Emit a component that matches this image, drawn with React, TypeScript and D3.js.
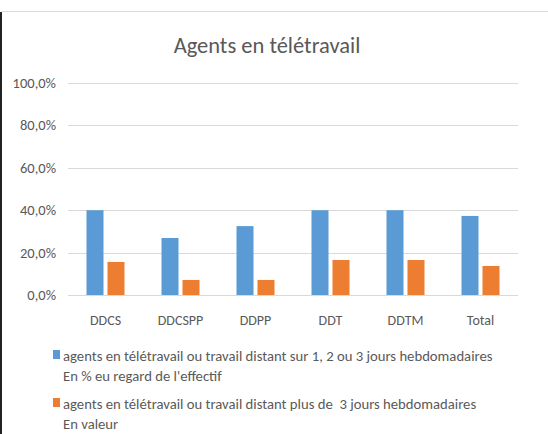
import { useEffect, useRef } from "react";
import * as d3 from "d3";

const categories = ["DDCS", "DDCSPP", "DDPP", "DDT", "DDTM", "Total"];
const seriesNames = [
  ["agents en télétravail ou travail distant sur 1, 2 ou 3 jours hebdomadaires", "En % eu regard de l'effectif"],
  ["agents en télétravail ou travail distant plus de  3 jours hebdomadaires", "En valeur"],
];
const partTime = [0.4, 0.269, 0.325, 0.4, 0.4, 0.373];
const fullTime = [0.156, 0.071, 0.071, 0.165, 0.165, 0.137];
const yTicks = [0, 0.2, 0.4, 0.6, 0.8, 1.0];
const colors = ["#5b9bd5", "#ed7d31"];

const FONT = "'Liberation Sans Narrow', Carlito, 'Open Sans', sans-serif";

const App = () => {
  const ref = useRef<SVGSVGElement | null>(null);

  useEffect(() => {
    if (!ref.current) return;
    const W = 548;
    const H = 434;
    const svg = d3.select(ref.current).html("").attr("width", W).attr("height", H);

    svg.append("rect").attr("width", W).attr("height", H).attr("fill", "#fff");

    // chart frame
    svg.append("line").attr("x1", 2).attr("x2", W).attr("y1", 11.5).attr("y2", 11.5)
      .attr("stroke", "#d9d9d9").attr("stroke-width", 1);
    svg.append("line").attr("x1", 1).attr("x2", 1).attr("y1", 12).attr("y2", H)
      .attr("stroke", "#222").attr("stroke-width", 2);

    svg.append("text")
      .attr("x", 267).attr("y", 53)
      .attr("text-anchor", "middle")
      .attr("fill", "#595959")
      .style("font-family", FONT)
      .style("font-size", "22.5px")
      .style("font-weight", 300)
      .text("Agents en télétravail");

    const x = d3.scaleBand<string>().domain(categories).range([68, 518]);
    const y = d3.scaleLinear().domain([0, 1]).range([295, 83]);

    const fmt = (v: number) => d3.format(".1f")(v * 100).replace(".", ",") + "%";

    const grid = svg.append("g");
    yTicks.forEach((t) => {
      grid.append("line")
        .attr("x1", 68).attr("x2", 518)
        .attr("y1", Math.round(y(t)) + 0.5).attr("y2", Math.round(y(t)) + 0.5)
        .attr("stroke", "#d9d9d9");
      grid.append("text")
        .attr("x", 56).attr("y", y(t) + 5)
        .attr("text-anchor", "end")
        .attr("fill", "#595959")
        .style("font-family", FONT)
        .style("font-size", "14.5px")
        .text(fmt(t));
    });

    const barW = 17;
    const gap = 4;
    const series = [partTime, fullTime];
    series.forEach((vals, si) => {
      svg.append("g").selectAll("rect")
        .data(vals)
        .join("rect")
        .attr("x", (_, i) => x(categories[i])! + x.bandwidth() / 2 - barW - gap / 2 + si * (barW + gap))
        .attr("y", (d) => y(d))
        .attr("width", barW)
        .attr("height", (d) => y(0) - y(d))
        .attr("fill", colors[si]);
    });

    svg.append("g").selectAll("text")
      .data(categories)
      .join("text")
      .attr("x", (d) => x(d)! + x.bandwidth() / 2)
      .attr("y", 325)
      .attr("text-anchor", "middle")
      .attr("fill", "#595959")
      .style("font-family", FONT)
      .style("font-size", "14px")
      .text((d) => d);

    // Legend
    const legendY = [350, 398];
    seriesNames.forEach((lines, i) => {
      svg.append("rect")
        .attr("x", 53).attr("y", legendY[i])
        .attr("width", 7).attr("height", 9)
        .attr("fill", colors[i]);
      lines.forEach((l, j) => {
        svg.append("text")
          .attr("x", 63).attr("y", legendY[i] + 11 + j * 20)
          .attr("fill", "#595959")
          .style("font-family", FONT)
          .style("font-size", "14.7px")
          .style("white-space", "pre")
          .text(l);
      });
    });
  }, []);

  return (
    <div style={{ position: "absolute", left: 0, top: 0 }}>
      <svg ref={ref} style={{ display: "block" }}></svg>
    </div>
  );
};

export default App;
